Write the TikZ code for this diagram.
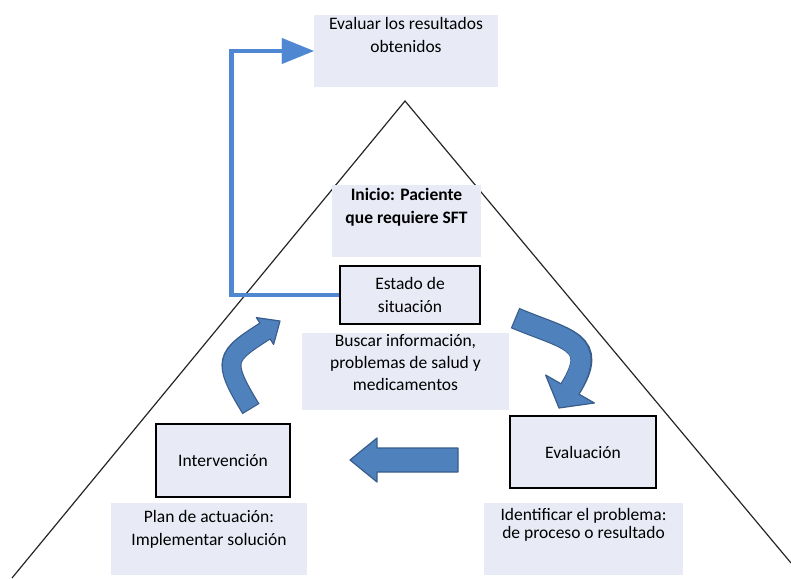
\documentclass[tikz,border=0pt]{standalone}
\usepackage{fontspec}
\setmainfont{Carlito}
\usepackage{tikz}
\usetikzlibrary{positioning,arrows.meta}

\definecolor{notefill}{RGB}{232,235,246}
\definecolor{linkblue}{RGB}{79,135,210}
\definecolor{bendblue}{RGB}{79,129,189}
\definecolor{benddark}{RGB}{56,93,138}

\tikzset{
  notebox/.style={fill=notefill, inner sep=0pt},
  notetext/.style={align=center, inner sep=0pt, font=\fontsize{17.5}{23}\selectfont},
  stagebox/.style={notebox, draw=black, line width=1.3pt, notetext},
  flowline/.style={draw=linkblue, line width=4.5pt, -{Triangle[length=32pt,width=26pt,line width=0.1pt]}},
  pyramid/.style={draw=black!85, line width=1.2pt},
  shaftdark/.style={draw=benddark},
  shaftlight/.style={draw=bendblue},
  headfill/.style={fill=bendblue, draw=benddark, line width=1.2pt, line join=round}
}

\begin{document}
\begin{tikzpicture}[x=1pt,y=-1pt]
\useasboundingbox (0,0) rectangle (791,578);

\draw[pyramid] (12,578) -- (405,101) -- (791,563);

% cajas de texto
\node[notebox, minimum width=184pt, minimum height=72pt] (evalbox) at (406,51) {};
\node[notetext, below=2pt of evalbox.north] (evaltext) {Evaluar los resultados\\obtenidos};

\node[notebox, minimum width=149pt, minimum height=72pt] (iniciobox) at (406.5,221) {};
\node[notetext, font={\fontsize{17.5}{23}\selectfont\bfseries}, below=3pt of iniciobox.north] (iniciotext) {Inicio: Paciente\\que requiere SFT};

\node[stagebox, minimum width=140pt, minimum height=58pt] (estado) at (410,295) {Estado de\\situación};

\node[notebox, minimum width=207pt, minimum height=77pt] (buscarbox) at (405.5,371.5) {};
\node[notetext, font={\fontsize{17.5}{22}\selectfont}, below=1pt of buscarbox.north] (buscartext) {Buscar información,\\problemas de salud y\\medicamentos};

\node[stagebox, minimum width=134pt, minimum height=73pt] (interv) at (223,460.5) {Intervención};

\node[notebox, minimum width=196pt, minimum height=72pt] (planbox) at (209,539) {};
\node[notetext, below=7pt of planbox.north] (plantext) {Plan de actuación:\\Implementar solución};

\node[stagebox, minimum width=146pt, minimum height=72pt] (evaluacion) at (583,452) {Evaluación};

\node[notebox, minimum width=199pt, minimum height=72pt] (identbox) at (583.5,539) {};
\node[notetext, font={\fontsize{17.5}{18}\selectfont}, below=5pt of identbox.north] (identtext) {Identificar el problema:\\de proceso o resultado};

% retorno
\draw[flowline] (estado.west) -- ++(-108,0) |- (evalbox.west);

% flechas curvas
\coordinate (rtail) at (515,318);
\coordinate (rbase) at (570,389);
\draw[shaftdark, line width=22pt] (rtail) .. controls (567,340) and (600,341) .. (rbase);
\filldraw[headfill] (545.6,375) -- (559,408) -- (594.4,403) -- cycle;
\draw[shaftlight, line width=19.6pt, shorten <=1.2pt, shorten >=-4pt] (rtail) .. controls (567,340) and (600,341) .. (rbase);

\coordinate (ltail) at (251,409);
\coordinate (lbase) at (265,331);
\draw[shaftdark, line width=20pt] (ltail) .. controls (221,360) and (225.5,356.4) .. (lbase);
\filldraw[headfill] (256.4,317.6) -- (280,321) -- (273.6,344.4) -- cycle;
\draw[shaftlight, line width=17.6pt, shorten <=1.2pt, shorten >=-4pt] (ltail) .. controls (221,360) and (225.5,356.4) .. (lbase);

\filldraw[headfill] (458,448) -- (377,448) -- (377,438) -- (350,460) -- (377,482) -- (377,472) -- (458,472) -- cycle;
\end{tikzpicture}
\end{document}
